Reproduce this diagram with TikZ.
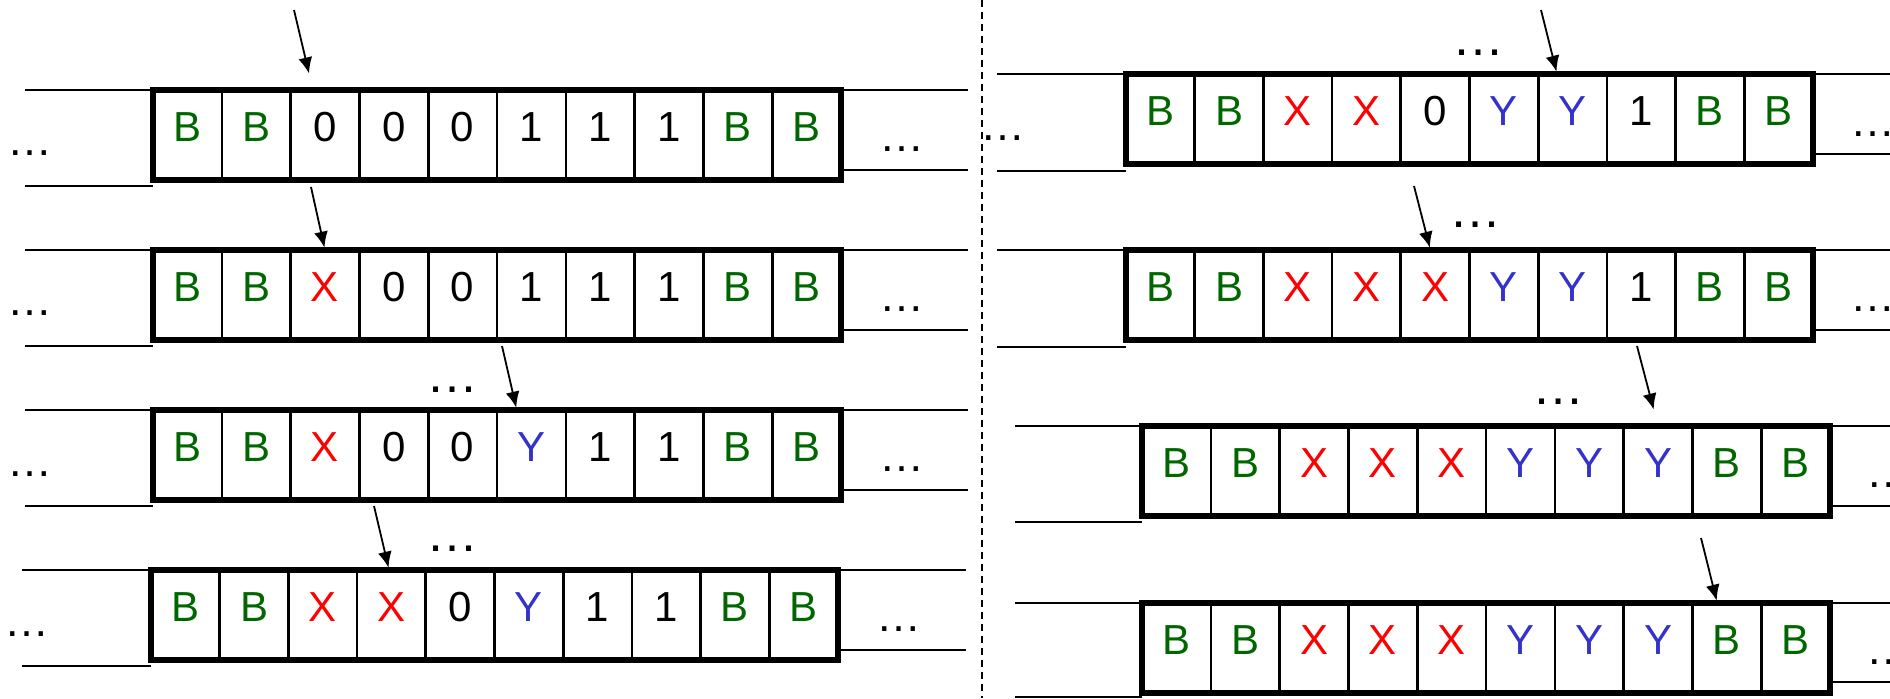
\documentclass[tikz,border=0pt]{standalone}
\usepackage{fontspec}
\setmainfont{Liberation Sans}
\usetikzlibrary{arrows.meta}
\definecolor{gruen}{RGB}{0,102,0}
\definecolor{rot}{RGB}{255,0,0}
\definecolor{blau}{RGB}{51,51,204}

\begin{document}
\begin{tikzpicture}[
    x=0.5pt, y=-0.5pt,
    zelle/.style={draw, line width=1.3pt, minimum width=34.4pt, minimum height=45pt,
                  inner sep=0pt, outer sep=0pt, text height=15pt, text depth=9pt,
                  font=\fontsize{21}{24}\selectfont},
    sB/.style={text=gruen}, sX/.style={text=rot}, sY/.style={text=blau},
    s0/.style={}, s1/.style={},
    rahmen/.style={line width=2.6pt},
    band/.style={line width=1.2pt},
    pfeil/.style={-{Latex[length=8pt,width=7pt]}, line width=0.9pt},
    punkte/.style={anchor=base, inner sep=0pt, font=\fontsize{22.5}{24}\selectfont},
    punkteoben/.style={punkte, font=\fontsize{26}{28}\selectfont},
    trenner/.style={line width=0.7pt, dash pattern=on 3.5pt off 2.5pt}
]

% --- Bildrahmen in Pixeln (1890 x 698), y nach unten ---
\useasboundingbox (0,0) rectangle (1890,698);
\clip (0,0) rectangle (1890,698);

% --- Trennlinie zwischen linker und rechter Spalte ---
\draw[trenner] (982,0) -- (982,698);

% --- Linke Spalte, Band 1 ---
\draw[band] (25,90) -- (153,90) (25,186) -- (153,186);
\draw[band] (841,90) -- (968,90) (841,170) -- (968,170);
\foreach \s [count=\i] in {B,B,0,0,0,1,1,1,B,B}
  \node[zelle, s\s] (L1-\i) at ({153+(\i-0.5)*68.8},135) {\s};
\draw[rahmen] (L1-1.north west) rectangle (L1-10.south east);
\node[punkte] (L1-links)  at (30,155)  {…};
\node[punkte] (L1-rechts) at (902,151) {…};

% --- Linke Spalte, Band 2 ---
\draw[band] (25,250) -- (153,250) (25,346) -- (153,346);
\draw[band] (841,250) -- (968,250) (841,330) -- (968,330);
\foreach \s [count=\i] in {B,B,X,0,0,1,1,1,B,B}
  \node[zelle, s\s] (L2-\i) at ({153+(\i-0.5)*68.8},295) {\s};
\draw[rahmen] (L2-1.north west) rectangle (L2-10.south east);
\node[punkte] (L2-links)  at (30,315)  {…};
\node[punkte] (L2-rechts) at (902,311) {…};

% --- Linke Spalte, Band 3 ---
\draw[band] (25,410) -- (153,410) (25,506) -- (153,506);
\draw[band] (841,410) -- (968,410) (841,490) -- (968,490);
\foreach \s [count=\i] in {B,B,X,0,0,Y,1,1,B,B}
  \node[zelle, s\s] (L3-\i) at ({153+(\i-0.5)*68.8},455) {\s};
\draw[rahmen] (L3-1.north west) rectangle (L3-10.south east);
\node[punkte]     (L3-links)  at (30,476)  {…};
\node[punkte]     (L3-rechts) at (902,471) {…};
\node[punkteoben] (L3-oben)   at (452,392) {…};

% --- Linke Spalte, Band 4 ---
\draw[band] (22,570) -- (151,570) (22,666) -- (151,666);
\draw[band] (838,570) -- (966,570) (838,650) -- (966,650);
\foreach \s [count=\i] in {B,B,X,X,0,Y,1,1,B,B}
  \node[zelle, s\s] (L4-\i) at ({151+(\i-0.5)*68.7},615) {\s};
\draw[rahmen] (L4-1.north west) rectangle (L4-10.south east);
\node[punkte]     (L4-links)  at (27,636)  {…};
\node[punkte]     (L4-rechts) at (899,631) {…};
\node[punkteoben] (L4-oben)   at (452,551) {…};

% --- Rechte Spalte, Band 1 ---
\draw[band] (997,74) -- (1126,74) (997,171) -- (1126,171);
\draw[band] (1813,74) -- (1890,74) (1813,154) -- (1890,154);
\foreach \s [count=\i] in {B,B,X,X,0,Y,Y,1,B,B}
  \node[zelle, s\s] (R1-\i) at ({1126+(\i-0.5)*68.7},119) {\s};
\draw[rahmen] (R1-1.north west) rectangle (R1-10.south east);
\node[punkte]     (R1-links)  at (1003,140) {…};
\node[punkte]     (R1-rechts) at (1873,136) {…};
\node[punkteoben] (R1-oben)   at (1478,55)  {…};

% --- Rechte Spalte, Band 2 ---
\draw[band] (997,250) -- (1126,250) (997,347) -- (1126,347);
\draw[band] (1813,250) -- (1890,250) (1813,330) -- (1890,330);
\foreach \s [count=\i] in {B,B,X,X,X,Y,Y,1,B,B}
  \node[zelle, s\s] (R2-\i) at ({1126+(\i-0.5)*68.7},295) {\s};
\draw[rahmen] (R2-1.north west) rectangle (R2-10.south east);
\node[punkte]     (R2-rechts) at (1873,311) {…};
\node[punkteoben] (R2-oben)   at (1475,227) {…};

% --- Rechte Spalte, Band 3 ---
\draw[band] (1015,426) -- (1142,426) (1015,522) -- (1142,522);
\draw[band] (1830,426) -- (1890,426) (1830,506) -- (1890,506);
\foreach \s [count=\i] in {B,B,X,X,X,Y,Y,Y,B,B}
  \node[zelle, s\s] (R3-\i) at ({1142+(\i-0.5)*68.8},471) {\s};
\draw[rahmen] (R3-1.north west) rectangle (R3-10.south east);
\node[punkte]     (R3-rechts) at (1889,487) {…};
\node[punkteoben] (R3-oben)   at (1558,404) {…};

% --- Rechte Spalte, Band 4 ---
\draw[band] (1015,603) -- (1142,603) (1015,697) -- (1142,697);
\draw[band] (1830,603) -- (1890,603) (1830,682) -- (1890,682);
\foreach \s [count=\i] in {B,B,X,X,X,Y,Y,Y,B,B}
  \node[zelle, s\s] (R4-\i) at ({1142+(\i-0.5)*68.8},648) {\s};
\draw[rahmen] (R4-1.north west) rectangle (R4-10.south east);
\node[punkte] (R4-rechts) at (1889,664) {…};

% --- Lesekopf-Pfeile ---
\coordinate (kopf-L1) at (294,10);
\coordinate (kopf-L2) at (311,187);
\coordinate (kopf-L3) at (502,346);
\coordinate (kopf-L4) at (374,506);
\coordinate (kopf-R1) at (1541,10);
\coordinate (kopf-R2) at (1414,186);
\coordinate (kopf-R3) at (1637,346);
\coordinate (kopf-R4) at (1701,538);
\draw[pfeil, shorten >=8.5pt] (kopf-L1) -- (L1-3.105);
\draw[pfeil, shorten >=1.2pt] (kopf-L2) -- (L2-3.north);
\draw[pfeil, shorten >=1.2pt] (kopf-L3) -- (L3-6.108);
\draw[pfeil, shorten >=1.2pt] (kopf-L4) -- (L4-4.93);
\draw[pfeil, shorten >=1.2pt] (kopf-R1) -- (R1-7.109);
\draw[pfeil, shorten >=1.2pt] (kopf-R2) -- (R2-5.96);
\draw[pfeil, shorten >=8.5pt] (kopf-R3) -- (R3-8.north);
\draw[pfeil, shorten >=1.2pt] (kopf-R4) -- (R4-9.102);

\end{tikzpicture}
\end{document}
